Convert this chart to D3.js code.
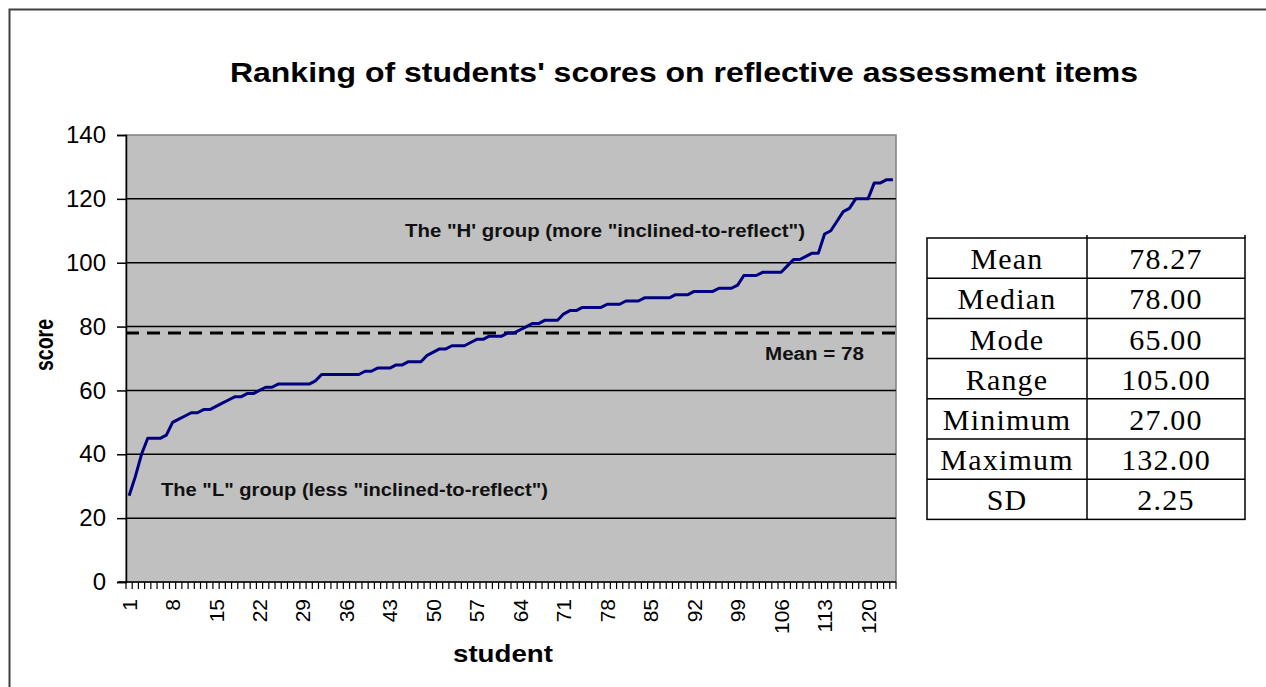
<!DOCTYPE html>
<html><head><meta charset="utf-8">
<script src="https://cdn.jsdelivr.net/npm/d3@7"></script>
<style>body{margin:0;background:#fff;overflow:hidden}</style>
</head><body>
<svg id="c" width="1266" height="687"></svg>
<script>
// ---- data ----
const students = d3.range(1, 125);
const scores = [
  27,33,40,45,45,45,46,50,51,52,
  53,53,54,54,55,56,57,58,58,59,
  59,60,61,61,62,62,62,62,62,62,
  63,65,65,65,65,65,65,65,66,66,
  67,67,67,68,68,69,69,69,71,72,
  73,73,74,74,74,75,76,76,77,77,
  77,78,78,79,80,81,81,82,82,82,
  84,85,85,86,86,86,86,87,87,87,
  88,88,88,89,89,89,89,89,90,90,
  90,91,91,91,91,92,92,92,93,96,
  96,96,97,97,97,97,99,101,101,102,
  103,103,109,110,113,116,117,120,120,120,
  125,125,126,126
];
const yTicks = [0, 20, 40, 60, 80, 100, 120, 140];
const xTickLabels = students.filter(d => (d - 1) % 7 === 0);
const meanValue = 78;
const statNames = ["Mean", "Median", "Mode", "Range", "Minimum", "Maximum", "SD"];
const statValues = ["78.27", "78.00", "65.00", "105.00", "27.00", "132.00", "2.25"];
const titleText = "Ranking of students' scores on reflective assessment items";
const hLabel = "The \"H' group (more \"inclined-to-reflect\")";
const lLabel = "The \"L\" group (less \"inclined-to-reflect\")";
const meanLabel = "Mean = 78";

// ---- layout ----
const svg = d3.select("#c");
const L = 126, R = 896, T = 135, B = 582;
const x = d3.scaleBand().domain(students).range([L, R]).padding(0);
const y = d3.scaleLinear().domain([0, 140]).range([B, T]);
const bw = x.bandwidth();
const ARIAL = "'Liberation Sans', Arial, sans-serif";
const TIMES = "'Liberation Serif', 'Times New Roman', serif";

// outer frame
svg.append("rect").attr("x", 9.5).attr("y", 9.5).attr("width", 1300).attr("height", 700)
  .attr("fill", "#fff").attr("stroke", "#404040").attr("stroke-width", 2);

// title
svg.append("text").attr("x", 230).attr("y", 82)
  .attr("font-family", ARIAL).attr("font-weight", "bold").attr("font-size", 28)
  .attr("textLength", 908).attr("lengthAdjust", "spacingAndGlyphs")
  .text(titleText);

// plot area
svg.append("rect").attr("x", L).attr("y", T).attr("width", R - L).attr("height", B - T)
  .attr("fill", "#c0c0c0").attr("stroke", "#808080").attr("stroke-width", 1.5);

// gridlines
svg.append("g").selectAll("line").data(yTicks.filter(v => v > 0 && v < 140)).join("line")
  .attr("x1", L).attr("x2", R).attr("y1", d => y(d)).attr("y2", d => y(d))
  .attr("stroke", "#000").attr("stroke-width", 1.5);

// mean dashed line
svg.append("line").attr("x1", L).attr("x2", R).attr("y1", y(meanValue)).attr("y2", y(meanValue))
  .attr("stroke", "#000").attr("stroke-width", 3).attr("stroke-dasharray", "13,8");

// y axis
const yAxis = svg.append("g").attr("transform", `translate(${L},0)`)
  .call(d3.axisLeft(y).tickValues(yTicks).tickSize(9).tickPadding(11).tickFormat(d3.format("d")));
yAxis.select(".domain").attr("stroke", "#000").attr("stroke-width", 1.5);
yAxis.selectAll(".tick line").attr("stroke", "#000").attr("stroke-width", 1.5);
yAxis.selectAll("text").attr("font-family", ARIAL).attr("font-size", 24).attr("fill", "#000");

// x axis line
svg.append("line").attr("x1", L - 8).attr("x2", R).attr("y1", B).attr("y2", B)
  .attr("stroke", "#000").attr("stroke-width", 1.5);
// x ticks at category boundaries
const bounds = students.map(d => x(d)).concat([x(students[students.length - 1]) + bw]);
svg.append("g").selectAll("line").data(bounds).join("line")
  .attr("x1", d => d).attr("x2", d => d).attr("y1", B).attr("y2", B + 7)
  .attr("stroke", "#000").attr("stroke-width", 1.2);
// x tick labels
svg.append("g").selectAll("text").data(xTickLabels).join("text")
  .attr("transform", d => `translate(${x(d) + bw / 2 + 7.5},599) rotate(-90)`)
  .attr("text-anchor", "end")
  .attr("font-family", ARIAL).attr("font-size", 21).attr("fill", "#000")
  .text(d => d);

// axis titles
svg.append("text").attr("x", 503).attr("y", 662).attr("text-anchor", "middle")
  .attr("font-family", ARIAL).attr("font-weight", "bold").attr("font-size", 24)
  .attr("textLength", 100).attr("lengthAdjust", "spacingAndGlyphs")
  .text("student");
svg.append("text").attr("transform", "translate(53,345) rotate(-90)").attr("text-anchor", "middle")
  .attr("font-family", ARIAL).attr("font-weight", "bold").attr("font-size", 26)
  .attr("textLength", 52).attr("lengthAdjust", "spacingAndGlyphs")
  .text("score");

// data line
svg.append("path").datum(students)
  .attr("fill", "none").attr("stroke", "#000080").attr("stroke-width", 3)
  .attr("stroke-linejoin", "round")
  .attr("d", d3.line().x(d => x(d) + bw / 2).y((d, i) => y(scores[i])));

// annotations
svg.append("text").attr("x", 405).attr("y", 237)
  .attr("font-family", ARIAL).attr("font-weight", "bold").attr("font-size", 18)
  .attr("textLength", 400).attr("lengthAdjust", "spacingAndGlyphs")
  .attr("fill", "#111").text(hLabel);
svg.append("text").attr("x", 161).attr("y", 496)
  .attr("font-family", ARIAL).attr("font-weight", "bold").attr("font-size", 18)
  .attr("textLength", 387).attr("lengthAdjust", "spacingAndGlyphs")
  .attr("fill", "#111").text(lLabel);
svg.append("text").attr("x", 765).attr("y", 360)
  .attr("font-family", ARIAL).attr("font-weight", "bold").attr("font-size", 18)
  .attr("textLength", 99).attr("lengthAdjust", "spacingAndGlyphs")
  .attr("fill", "#111").text(meanLabel);

// stats table
const tX0 = 927, tX1 = 1087, tX2 = 1245, tY0 = 238, rowH = 40.2;
const rowScale = d3.scaleBand().domain(d3.range(statNames.length)).range([tY0, tY0 + rowH * statNames.length]);
const tbl = svg.append("g");
tbl.append("rect").attr("x", tX0).attr("y", tY0).attr("width", tX2 - tX0).attr("height", rowH * statNames.length)
  .attr("fill", "#fff").attr("stroke", "#000").attr("stroke-width", 1.5);
tbl.selectAll("line.row").data(d3.range(1, statNames.length)).join("line").attr("class", "row")
  .attr("x1", tX0).attr("x2", tX2).attr("y1", d => rowScale(d)).attr("y2", d => rowScale(d))
  .attr("stroke", "#000").attr("stroke-width", 1.5);
tbl.append("line").attr("x1", tX1).attr("x2", tX1).attr("y1", tY0 - 3).attr("y2", tY0 + rowH * statNames.length)
  .attr("stroke", "#000").attr("stroke-width", 1.5);
tbl.append("line").attr("x1", tX2).attr("x2", tX2).attr("y1", tY0 - 3).attr("y2", tY0)
  .attr("stroke", "#000").attr("stroke-width", 1.5);
tbl.selectAll("text.n").data(statNames).join("text").attr("class", "n")
  .attr("x", (tX0 + tX1) / 2).attr("y", (d, i) => rowScale(i) + rowH - 9)
  .attr("text-anchor", "middle").attr("font-family", TIMES).attr("font-size", 30)
  .attr("letter-spacing", 1.2).text(d => d);
tbl.selectAll("text.v").data(statValues).join("text").attr("class", "v")
  .attr("x", (tX1 + tX2) / 2).attr("y", (d, i) => rowScale(i) + rowH - 9)
  .attr("text-anchor", "middle").attr("font-family", TIMES).attr("font-size", 30)
  .attr("letter-spacing", 1.2).text(d => d);
</script>
</body></html>
